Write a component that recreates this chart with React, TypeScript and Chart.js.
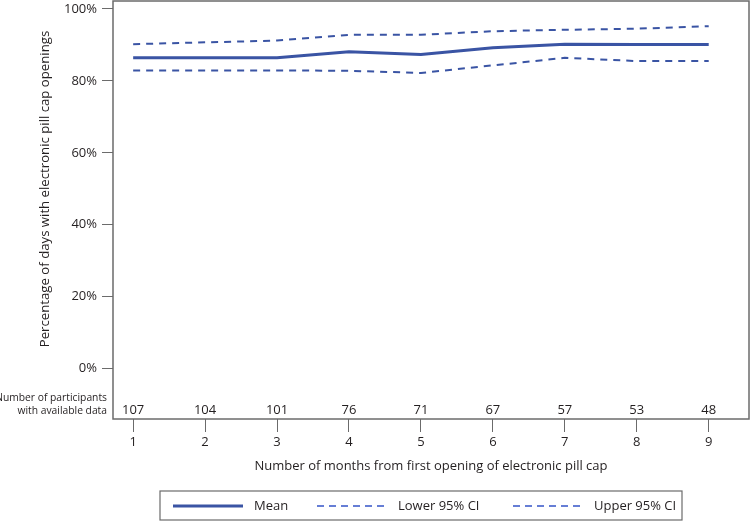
import React, { useEffect, useRef } from "react";
import { Chart, registerables } from "chart.js";

Chart.register(...registerables);

// ---- data ----
const months = [1, 2, 3, 4, 5, 6, 7, 8, 9];
const meanPct = [86.4, 86.4, 86.4, 88.1, 87.3, 89.2, 90.2, 90.1, 90.1];
const lowerPct = [82.9, 82.9, 82.9, 82.8, 82.2, 84.3, 86.4, 85.5, 85.5];
const upperPct = [90.2, 90.7, 91.2, 92.8, 92.8, 93.8, 94.2, 94.5, 95.2];
const participants = [107, 104, 101, 76, 71, 67, 57, 53, 48];
const yTickValues = [0, 20, 40, 60, 80, 100];
const seriesLabels = ["Mean", "Lower 95% CI", "Upper 95% CI"];
const xTitle = "Number of months from first opening of electronic pill cap";
const yTitle = "Percentage of days with electronic pill cap openings";
const participantsLabel = ["Number of participants", "with available data"];

const LINE = "rgb(58,84,164)";
const LEGEND_DASH = "rgb(52,84,200)";
const TEXT = "#231f20";
const FRAME = "#6b6b6b";
const FONT = "'Open Sans', sans-serif";
const FS = 13;

const overlay = {
  id: "overlay",
  afterDraw(chart: any) {
    const { ctx, chartArea, scales } = chart;
    const xs = scales.x;
    ctx.save();
    // frame
    ctx.strokeStyle = FRAME;
    ctx.lineWidth = 1.5;
    ctx.setLineDash([]);
    ctx.strokeRect(chartArea.left, chartArea.top, chartArea.right - chartArea.left, chartArea.bottom - chartArea.top);

    ctx.fillStyle = TEXT;
    ctx.font = `${FS}px ${FONT}`;
    ctx.textBaseline = "middle";
    // participants numbers
    ctx.textAlign = "center";
    participants.forEach((n, i) => {
      ctx.fillText(String(n), xs.getPixelForValue(months[i]), chartArea.bottom - 9);
    });
    // participants label
    ctx.textAlign = "right";
    ctx.font = `10.3px ${FONT}`;
    ctx.fillText(participantsLabel[0], 107, chartArea.bottom - 21);
    ctx.fillText(participantsLabel[1], 107, chartArea.bottom - 8);

    // x title
    ctx.textAlign = "center";
    ctx.font = `${FS}px ${FONT}`;
    ctx.fillText(xTitle, (chartArea.left + chartArea.right) / 2, 466);

    // y title
    ctx.save();
    ctx.translate(45, 189);
    ctx.rotate(-Math.PI / 2);
    ctx.font = `13.2px ${FONT}`;
    ctx.fillText(yTitle, 0, 0);
    ctx.restore();

    // legend
    ctx.strokeStyle = FRAME;
    ctx.lineWidth = 1.2;
    ctx.strokeRect(160, 491, 522, 29);
    const ly = 506;
    const items = [
      { x: 173, w: 3, dash: [] as number[], color: LINE },
      { x: 317, w: 1.6, dash: [7, 5], color: LEGEND_DASH },
      { x: 513, w: 1.6, dash: [7, 5], color: LEGEND_DASH },
    ];
    ctx.font = `${FS}px ${FONT}`;
    ctx.textAlign = "left";
    items.forEach((it, i) => {
      ctx.beginPath();
      ctx.strokeStyle = it.color;
      ctx.lineWidth = it.w;
      ctx.setLineDash(it.dash);
      ctx.moveTo(it.x, ly);
      ctx.lineTo(it.x + 70, ly);
      ctx.stroke();
      ctx.fillStyle = TEXT;
      ctx.fillText(seriesLabels[i], it.x + 81, ly);
    });
    ctx.restore();
  },
};

export default function App() {
  const ref = useRef<HTMLCanvasElement | null>(null);
  useEffect(() => {
    document.body.style.margin = "0";
    if (!ref.current) return;
    const mk = (vals: number[]) => months.map((m, i) => ({ x: m, y: vals[i] }));
    const chart = new Chart(ref.current, {
      type: "line",
      data: {
        datasets: [
          { label: seriesLabels[0], data: mk(meanPct), borderColor: LINE, borderWidth: 3, pointRadius: 0, tension: 0 },
          { label: seriesLabels[1], data: mk(lowerPct), borderColor: LINE, borderWidth: 2, borderDash: [7, 6], pointRadius: 0, tension: 0 },
          { label: seriesLabels[2], data: mk(upperPct), borderColor: LINE, borderWidth: 2, borderDash: [7, 6], pointRadius: 0, tension: 0 },
        ],
      },
      options: {
        responsive: false,
        animation: false,
        layout: { padding: { top: 1, right: 1, left: 0, bottom: 0 } },
        plugins: { legend: { display: false }, tooltip: { enabled: false }, title: { display: false } },
        scales: {
          x: {
            type: "linear",
            min: 0.72,
            max: 9.56,
            afterBuildTicks: (s: any) => { s.ticks = months.map((v) => ({ value: v })); },
            afterFit: (s: any) => { s.height = 102; s.paddingLeft = 0; s.paddingRight = 0; },
            grid: { drawOnChartArea: false, drawTicks: true, tickLength: 13, color: FRAME, lineWidth: 1 },
            border: { display: false },
            ticks: { color: TEXT, font: { family: FONT, size: FS }, padding: 2, maxRotation: 0, autoSkip: false },
          },
          y: {
            type: "linear",
            min: -14,
            max: 102.2,
            afterBuildTicks: (s: any) => { s.ticks = yTickValues.map((v) => ({ value: v })); },
            afterFit: (s: any) => { s.width = 113; s.paddingTop = 0; s.paddingBottom = 0; },
            grid: { drawOnChartArea: false, drawTicks: true, tickLength: 11, color: FRAME, lineWidth: 1 },
            border: { display: false },
            ticks: { color: TEXT, font: { family: FONT, size: FS }, padding: 5, callback: (v: any) => v + "%" },
          },
        },
      },
      plugins: [overlay],
    });
    return () => chart.destroy();
  }, []);
  return (
    <div style={{ position: "absolute", left: 0, top: 0, width: 750, height: 521 }}>
      <canvas ref={ref} width={750} height={521} style={{ width: 750, height: 521 }} />
    </div>
  );
}
